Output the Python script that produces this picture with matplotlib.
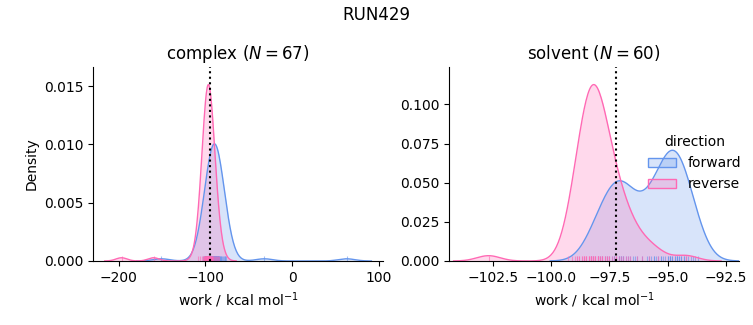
import numpy as np
import matplotlib
matplotlib.use("Agg")
from matplotlib import pyplot as plt
from matplotlib.patches import Patch
from matplotlib.ticker import MultipleLocator

# work values (kcal/mol)
complex_forward = [
    -96, -84, -103, -102, -101, -100, -99, -99, -98, -97, -97, -96, -96,
    -95, -95, -94, -94, -93, -93, -93, -92, -92, -92, -91, -91, -91, -90,
    -90, -90, -90, -89, -89, -89, -89, -88, -88, -88, -88, -87, -87, -87,
    -86, -86, -86, -85, -85, -84, -84, -83, -83, -82, -82, -81, -80, -79,
    -78, -77, -76, -92, -90, -88, -91, -89, -87,
    -151, -32, 63,
]
complex_reverse = [
    -109, -106, -104, -103, -102, -101.5, -101, -100.5, -100, -100, -99.5,
    -99.5, -99, -99, -98.5, -98.5, -98, -98, -98, -97.5, -97.5, -97.5, -97,
    -97, -97, -97, -96.5, -96.5, -96.5, -96, -96, -96, -95.5, -95.5, -95.5,
    -95, -95, -94.5, -94.5, -94, -94, -93.5, -93, -92.5, -92, -91.5, -91,
    -90, -89, -88, -87, -86, -84,
    -97.2, -96.8, -97.8, -96.2, -98.2, -95.8, -99.2, -94.8, -97.4, -96.6,
    -101.8, -92.8,
    -197, -160,
]
solvent_forward = [
    -98.2, -97.9, -98.3, -98.0, -97.8, -97.6, -97.5, -97.4, -97.3, -97.2,
    -97.1, -97.0, -97.0, -96.9, -96.8, -96.7, -96.6, -96.5, -96.3, -96.1,
    -95.9, -95.8, -95.7, -95.6, -95.5, -95.4, -95.3, -95.2,
    -95.1, -95.0, -95.0, -94.9, -94.9, -94.8, -94.8, -94.7, -94.7, -94.6,
    -94.6, -94.5, -94.5, -94.4, -94.4, -94.3, -94.2, -94.1, -94.0, -93.9,
    -93.8, -93.7,
    -97.7, -97.3, -97.1, -96.9, -96.4, -95.6, -95.3, -94.9, -94.6, -94.3,
]
solvent_reverse = [
    -102.7,
    -99.3, -99.1, -99.0, -98.9, -98.9, -98.8, -98.8, -98.7, -98.7, -98.6,
    -98.6, -98.5, -98.5, -98.5, -98.4, -98.4, -98.4, -98.3, -98.3, -98.3,
    -98.2, -98.2, -98.2, -98.1, -98.1, -98.1, -98.0, -98.0, -98.0, -97.9,
    -97.9, -97.8, -97.8, -97.7, -97.7, -97.6, -97.6, -97.5, -97.5, -97.4,
    -97.3, -97.2, -97.1, -97.0, -96.9, -96.8, -96.7, -96.6, -98.0, -96.3,
    -96.1,
    -95.8, -95.4, -98.3, -98.1, -94.2,
    -98.6, -97.8, -97.2,
]
free_energy = {"complex": -94.6, "solvent": -97.2}
xlims = {"complex": (-230, 105), "solvent": (-104.4, -91.93)}
ysteps = {"complex": 0.005, "solvent": 0.025}
# both directions of a phase share one normalisation
density_scale = {"complex": 0.3, "solvent": 0.255}

colors = {"forward": "#6495ED", "reverse": "#FF69B4"}


def kde(values, scale, cut=3, gridsize=300):
    values = np.asarray(values, dtype=float)
    bw = values.std(ddof=1) * len(values) ** (-1 / 5)
    grid = np.linspace(values.min() - cut * bw, values.max() + cut * bw, gridsize)
    z = (grid[:, None] - values[None, :]) / bw
    dens = np.exp(-0.5 * z ** 2).sum(axis=1) / (len(values) * bw * np.sqrt(2 * np.pi))
    return grid, dens * scale


def draw(ax, phase, forward, reverse):
    top = 0
    for name, vals in (("forward", forward), ("reverse", reverse)):
        x, y = kde(vals, density_scale[phase])
        c = colors[name]
        ax.fill_between(x, 0, y, color=c, alpha=0.25, linewidth=0)
        ax.plot(x, y, color=c, linewidth=1)
        ax.vlines(vals, 0, 0.025, transform=ax.get_xaxis_transform(),
                  color=c, linewidth=0.8, alpha=0.6)
        top = max(top, y.max())
    ax.axvline(free_energy[phase], color="black", linestyle=":", linewidth=1.5)
    ax.set_ylim(0, top * 1.1)
    ax.set_xlim(*xlims[phase])
    ax.yaxis.set_major_locator(MultipleLocator(ysteps[phase]))
    ax.set_title(f"{phase} ($N = {len(forward)}$)")
    ax.set_xlabel(r"work / kcal mol$^{-1}$")
    for s in ("top", "right"):
        ax.spines[s].set_visible(False)


fig = plt.figure(figsize=(7.53, 3.25), dpi=100)
ax1 = fig.add_axes([0.1235, 0.197, 0.385, 0.597])
ax2 = fig.add_axes([0.5963, 0.197, 0.385, 0.597])
draw(ax1, "complex", complex_forward, complex_reverse)
draw(ax2, "solvent", solvent_forward, solvent_reverse)
ax1.set_ylabel("Density")
fig.suptitle("RUN429", fontsize=12)

handles = [Patch(facecolor=matplotlib.colors.to_rgba(colors[k], 0.25),
                 edgecolor=colors[k], label=k) for k in ("forward", "reverse")]
ax2.legend(handles=handles, title="direction", frameon=False,
           loc="center right", bbox_to_anchor=(1.05, 0.503))

fig.savefig("out.png", dpi=100)
